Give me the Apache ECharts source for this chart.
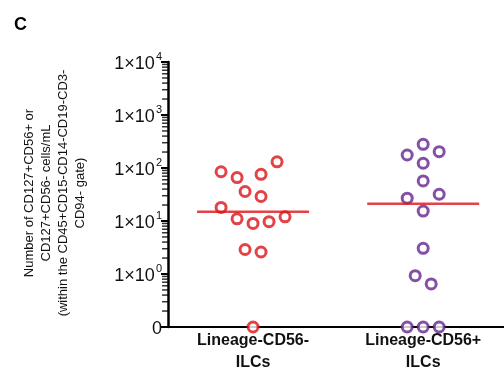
<!DOCTYPE html>
<html><head><meta charset="utf-8">
<script src="https://cdn.jsdelivr.net/npm/echarts@6/dist/echarts.min.js"></script>
<style>html,body{margin:0;padding:0;background:#fff}#c{width:504px;height:375px}</style>
</head><body><div id="c"></div>
<script>
const categories = ['Lineage-CD56-\nILCs', 'Lineage-CD56+\nILCs'];
const categoryPositions = [1, 3];
const redValues = [85, 66, 76, 131, 36, 29, 18, 11, 9, 9.7, 12, 2.9, 2.6, 0];
const redJitter = [-4, -2, 1, 3, -1, 1, -4, -2, 0, 2, 4, -1, 1, 0];
const purpleValues = [280, 176, 203, 123, 57, 32, 27, 15.4, 3.05, 0.93, 0.65, 0, 0, 0];
const purpleJitter = [0, -2, 2, 0, 0, 2, -2, 0, 0, -1, 1, -2, 0, 2];
const yTickExponents = [0, 1, 2, 3, 4];
const zeroLabel = '0';

const jitterStep = 0.094;
const minorTickShift = -0.035;
const toAxis = v => v > 0 ? Math.log10(v) : -1;
function median(arr) {
  const s = arr.slice().sort((a, b) => a - b);
  const n = s.length;
  return n % 2 ? s[(n - 1) / 2] : (s[n / 2 - 1] + s[n / 2]) / 2;
}
const groups = [
  { values: redValues, jitter: redJitter, color: '#dc1418' },
  { values: purpleValues, jitter: purpleJitter, color: '#65248f' }
];
const minorTicks = [];
for (let d = -1; d < 4; d++) for (let k = 2; k <= 9; k++) minorTicks.push([minorTickShift, d + Math.log10(k)]);

const series = [];
groups.forEach((g, gi) => {
  series.push({
    type: 'scatter',
    data: g.values.map((v, i) => [categoryPositions[gi] + g.jitter[i] * jitterStep, toAxis(v)]),
    symbol: 'circle', symbolSize: 10,
    itemStyle: { color: '#fff', borderColor: g.color, borderWidth: 3 },
    clip: false, z: 3
  });
});
groups.forEach((g, gi) => {
  series.push({
    type: 'scatter',
    data: [[categoryPositions[gi], toAxis(median(g.values))]],
    symbol: 'rect', symbolSize: [112, 2.5],
    itemStyle: { color: '#dc1418' }, z: 4, silent: true
  });
});
series.push({
  type: 'scatter', clip: false, silent: true, z: 10,
  data: minorTicks,
  symbol: 'rect', symbolSize: [6, 1.5],
  itemStyle: { color: '#000' }
});

const chart = echarts.init(document.getElementById('c'));
chart.setOption({
  animation: false,
  backgroundColor: '#fff',
  title: { text: 'C', left: 9, top: 11, textStyle: { fontFamily: 'Liberation Sans', fontSize: 18, fontWeight: 'bold', color: '#000' } },
  grid: { left: 168, right: 0, top: 62, bottom: 48 },
  xAxis: {
    type: 'value', min: 0, max: 3.95, interval: 1,
    axisLine: { show: true, onZero: false, lineStyle: { color: '#000', width: 2 } },
    axisTick: { show: false }, splitLine: { show: false },
    axisLabel: {
      margin: 3, showMinLabel: true, showMaxLabel: false,
      formatter: v => { const i = categoryPositions.indexOf(v); return i >= 0 ? categories[i] : ''; },
      fontFamily: 'Liberation Sans', fontSize: 16, fontWeight: 'bold', color: '#111', lineHeight: 22
    }
  },
  yAxis: {
    type: 'value', min: -1, max: 4, interval: 1,
    axisLine: { show: true, onZero: false, lineStyle: { color: '#000', width: 2.5 } },
    axisTick: { show: true, length: 7, lineStyle: { color: '#000', width: 2 } },
    splitLine: { show: false },
    axisLabel: {
      margin: 6, color: '#111',
      formatter: v => {
        if (v === -1) return '{b|' + zeroLabel + '}';
        if (yTickExponents.indexOf(v) >= 0) return '{b|1×10}{s|' + v + '}';
        return '';
      },
      rich: {
        b: { fontFamily: 'Liberation Sans', fontSize: 18, color: '#111', lineHeight: 22, verticalAlign: 'bottom' },
        s: { fontFamily: 'Liberation Sans', fontSize: 11, color: '#111', lineHeight: 11, verticalAlign: 'top', padding: [0, 0, 0, 1] }
      }
    }
  },
  graphic: [{
    type: 'text', x: 55, y: 193, rotation: Math.PI / 2,
    style: {
      text: 'Number of CD127+CD56+ or\nCD127+CD56- cells/mL\n(within the CD45+CD15-CD14-CD19-CD3-\nCD94- gate)',
      align: 'center', verticalAlign: 'middle', lineHeight: 17,
      font: '13px "Liberation Sans"', fill: '#111'
    }
  }],
  series: series
});
</script></body></html>
